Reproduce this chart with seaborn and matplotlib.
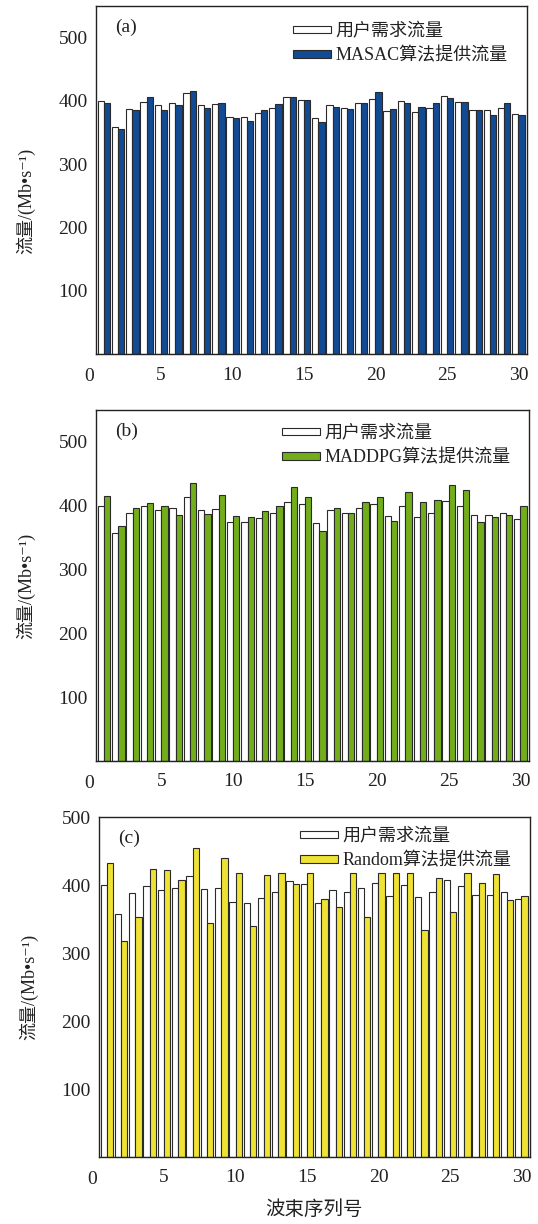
import numpy as np
import pandas as pd
import matplotlib
matplotlib.use("Agg")
import matplotlib.pyplot as plt
from matplotlib.patches import Patch
from matplotlib.transforms import blended_transform_factory
import seaborn as sns

# Beam indices and traffic values (Mb/s)
beams = list(range(1, 31))

demand = [400, 358, 388, 399, 393, 396, 413, 394, 395, 375,
          374, 381, 389, 406, 402, 373, 393, 389, 396, 403,
          384, 400, 382, 389, 408, 399, 386, 385, 389, 379]

masac = [397, 355, 386, 406, 386, 393, 415, 389, 396, 373,
         368, 385, 395, 406, 401, 367, 391, 388, 397, 414,
         388, 397, 391, 397, 404, 399, 385, 378, 396, 378]

maddpg = [415, 369, 397, 404, 400, 386, 436, 387, 417, 384,
          383, 391, 399, 430, 413, 361, 396, 388, 406, 414,
          376, 422, 406, 409, 432, 424, 375, 382, 386, 400]

random_alloc = [432, 318, 353, 423, 422, 408, 454, 344, 440, 418,
                340, 414, 418, 402, 417, 379, 367, 418, 353, 418,
                418, 418, 334, 410, 360, 418, 403, 416, 378, 384]

demand_label = "用户需求流量"
panel_tags = ["(a)", "(b)", "(c)"]
algo_labels = ["MASAC算法提供流量", "MADDPG算法提供流量", "Random算法提供流量"]
algo_values = [masac, maddpg, random_alloc]
algo_colors = ["#134a94", "#72ae1c", "#eee235"]
y_limits = [550, 550, 500]
y_ticks = [100, 200, 300, 400, 500]
x_ticks = [5, 10, 15, 20, 25, 30]

sns.set_theme(style="white")
plt.rcParams["font.family"] = ["Liberation Serif", "Noto Sans CJK SC", "DejaVu Serif"]
plt.rcParams["axes.unicode_minus"] = False

fig = plt.figure(figsize=(5.38, 12.24), dpi=100)
W, H = 538, 1224
# axes boxes in pixels: left, top, right, bottom
boxes = [(96, 6, 527, 354), (96, 410, 529, 761), (99, 817, 530, 1157)]
legend_tops = [23, 425, 828]
legend_lefts = [293, 282, 300]
ylabel_y = [0.44, 0.5, 0.5]
ink = "#222222"

for i, (l, t, r, b) in enumerate(boxes):
    ax = fig.add_axes([l / W, 1 - b / H, (r - l) / W, (b - t) / H])
    df = pd.DataFrame({
        "beam": beams * 2,
        "flow": demand + algo_values[i],
        "series": [demand_label] * len(beams) + [algo_labels[i]] * len(beams),
    })
    palette = {demand_label: "white", algo_labels[i]: algo_colors[i]}
    sns.barplot(data=df, x="beam", y="flow", hue="series",
                hue_order=[demand_label, algo_labels[i]], palette=palette,
                native_scale=True, width=0.88, dodge=True, gap=0,
                edgecolor="#2a2a2a", linewidth=0.8, saturation=1,
                errorbar=None, legend=False, ax=ax)

    ax.set_xlim(0.45, 30.6)
    ax.set_ylim(0, y_limits[i])
    ax.set_xticks(x_ticks)
    ax.set_xticklabels([str(v) for v in x_ticks])
    ax.set_yticks(y_ticks)
    ax.set_yticklabels([str(v) for v in y_ticks])
    ax.tick_params(axis="both", direction="in", length=5, width=0.9,
                   color=ink, labelsize=14, labelcolor=ink)
    ax.tick_params(axis="x", pad=9)
    ax.tick_params(axis="y", pad=6)
    for sp in ax.spines.values():
        sp.set_color(ink)
        sp.set_linewidth(1.0)

    # the origin label sits just left of the first bar group
    trans = blended_transform_factory(ax.transData, ax.transAxes)
    ax.annotate("0", xy=(0, 0), xycoords=trans, xytext=(0, -10),
                textcoords="offset points", ha="center", va="top",
                fontsize=14, color=ink, annotation_clip=False)

    ax.set_xlabel("")
    ax.set_ylabel("流量/(Mb•s⁻¹)", fontsize=13, color=ink)
    ax.yaxis.set_label_coords(-0.14, ylabel_y[i])

    ax.text(0.045, 1 - 21 / (b - t), panel_tags[i], transform=ax.transAxes,
            fontsize=14, ha="left", va="center", color=ink)

    handles = [Patch(facecolor="white", edgecolor="#2a2a2a", linewidth=0.8),
               Patch(facecolor=algo_colors[i], edgecolor="#2a2a2a", linewidth=0.8)]
    ax.legend(handles, [demand_label, algo_labels[i]], loc="upper left",
              bbox_to_anchor=((legend_lefts[i] - l) / (r - l),
                              1 - (legend_tops[i] - t) / (b - t)),
              frameon=False, fontsize=13, handlelength=2.1, handleheight=0.3,
              handletextpad=0.25, labelspacing=0.4, borderpad=0,
              borderaxespad=0, labelcolor=ink)

    if i == 2:
        ax.set_xlabel("波束序列号", fontsize=14, color=ink, labelpad=10)

fig.savefig("out.png", dpi=100)
